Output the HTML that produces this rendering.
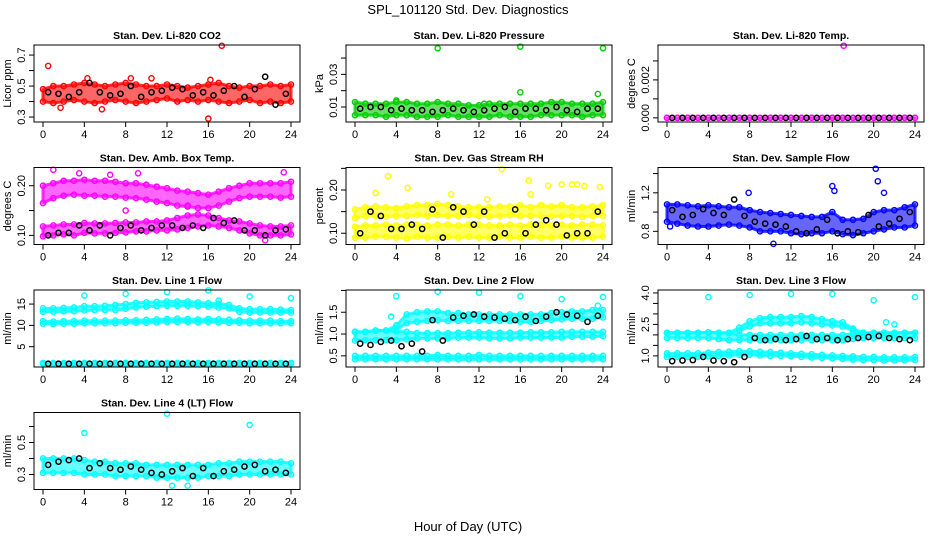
<!DOCTYPE html>
<html><head><meta charset="utf-8">
<style>
body{margin:0;background:#fff;}
svg{display:block;font-family:"Liberation Sans",Arial,sans-serif;}
</style></head>
<body>
<svg id="chart" width="936" height="540" viewBox="0 0 936 540" xmlns="http://www.w3.org/2000/svg">
<rect width="936" height="540" fill="#fff"/>
<text x="468" y="14" text-anchor="middle" font-size="13">SPL_101120  Std. Dev. Diagnostics</text>
<text x="468" y="531" text-anchor="middle" font-size="13">Hour of Day (UTC)</text>
</svg>
<script>
// shared hour categories
const bandHours = [0,1,2,3,4,5,6,7,8,9,10,11,12,13,14,15,16,17,18,19,20,21,22,23,24];
const blackHours = [0.5,1.5,2.5,3.5,4.5,5.5,6.5,7.5,8.5,9.5,10.5,11.5,12.5,13.5,14.5,15.5,16.5,17.5,18.5,19.5,20.5,21.5,22.5,23.5];
const xTicks = [0,4,8,12,16,20,24];

// CO2
const co2Lo = [0.40,0.39,0.40,0.41,0.40,0.39,0.40,0.41,0.40,0.39,0.40,0.41,0.42,0.40,0.41,0.40,0.41,0.40,0.39,0.40,0.41,0.39,0.40,0.39,0.40];
const co2Hi = [0.48,0.50,0.50,0.51,0.52,0.51,0.50,0.51,0.52,0.51,0.50,0.50,0.51,0.50,0.49,0.50,0.51,0.52,0.50,0.49,0.50,0.50,0.51,0.50,0.51];
const co2Black = [0.46,0.45,0.43,0.46,0.52,0.46,0.44,0.45,0.50,0.43,0.46,0.47,0.49,0.48,0.44,0.46,0.44,0.47,0.50,0.43,0.48,0.56,0.38,0.45];
const co2OutX = [0.5,1.7,4.3,5.7,10.5,16,16.2,17.3,8.5];
const co2OutY = [0.63,0.36,0.55,0.35,0.55,0.29,0.54,0.76,0.55];
// Pressure
const prLo = [0.005,0.005,0.005,0.004,0.005,0.005,0.004,0.004,0.004,0.005,0.004,0.004,0.004,0.004,0.005,0.004,0.004,0.004,0.005,0.005,0.005,0.005,0.004,0.005,0.005];
const prHi = [0.013,0.012,0.012,0.012,0.013,0.013,0.012,0.012,0.013,0.012,0.012,0.011,0.011,0.012,0.012,0.012,0.012,0.012,0.012,0.013,0.013,0.012,0.012,0.012,0.013];
const prBlack = [0.009,0.010,0.010,0.008,0.009,0.008,0.008,0.007,0.008,0.009,0.008,0.007,0.008,0.009,0.010,0.007,0.009,0.009,0.008,0.010,0.008,0.007,0.009,0.009];
const prOutX = [8,16,24,16,23.5,4,12.5];
const prOutY = [0.046,0.047,0.046,0.019,0.018,0.014,0.012];
// Li-820 temp
const tmLo = [0,0,0,0,0,0,0,0,0,0,0,0,0,0,0,0,0,0,0,0,0,0,0,0,0];
const tmHi = [0,0,0,0,0,0,0,0,0,0,0,0,0,0,0,0,0,0,0,0,0,0,0,0,0];
const tmBlack = [0,0,0,0,0,0,0,0,0,0,0,0,0,0,0,0,0,0,0,0,0,0,0,0];
const tmOutX = [17.1];
const tmOutY = [0.0038];
// Amb box temp
const abLo1 = [0.098,0.100,0.102,0.100,0.105,0.104,0.104,0.105,0.106,0.108,0.108,0.110,0.110,0.112,0.115,0.118,0.120,0.118,0.115,0.110,0.104,0.100,0.100,0.100,0.102];
const abHi1 = [0.118,0.120,0.122,0.122,0.125,0.124,0.124,0.125,0.126,0.126,0.128,0.128,0.130,0.135,0.140,0.142,0.140,0.135,0.130,0.128,0.124,0.120,0.118,0.118,0.120];
const abLo2 = [0.165,0.175,0.180,0.182,0.180,0.180,0.178,0.178,0.176,0.175,0.172,0.168,0.165,0.160,0.158,0.155,0.155,0.160,0.168,0.175,0.178,0.178,0.178,0.176,0.178];
const abHi2 = [0.200,0.205,0.210,0.210,0.212,0.210,0.210,0.208,0.205,0.205,0.202,0.198,0.195,0.190,0.188,0.185,0.182,0.188,0.195,0.200,0.205,0.205,0.205,0.205,0.208];
const abBlack = [0.100,0.105,0.105,0.120,0.110,0.120,0.100,0.115,0.120,0.110,0.115,0.120,0.120,0.115,0.120,0.115,0.135,0.125,0.130,0.110,0.110,0.100,0.110,0.112];
const abOutX = [1,3.5,6.5,9.2,14,23.3,21.5,8];
const abOutY = [0.232,0.225,0.222,0.225,0.160,0.227,0.090,0.150];
// Gas stream RH
const rhLo1 = [0.090,0.090,0.092,0.092,0.090,0.088,0.092,0.090,0.090,0.092,0.090,0.092,0.090,0.090,0.092,0.090,0.090,0.092,0.090,0.090,0.092,0.090,0.090,0.090,0.092];
const rhHi1 = [0.115,0.118,0.118,0.120,0.118,0.120,0.120,0.118,0.120,0.120,0.118,0.120,0.120,0.118,0.118,0.120,0.118,0.120,0.120,0.118,0.120,0.118,0.120,0.120,0.118];
const rhLo2 = [0.135,0.140,0.140,0.138,0.140,0.140,0.142,0.140,0.142,0.140,0.140,0.142,0.140,0.138,0.140,0.142,0.140,0.140,0.140,0.138,0.140,0.140,0.138,0.140,0.140];
const rhHi2 = [0.155,0.160,0.162,0.160,0.158,0.162,0.165,0.165,0.168,0.165,0.162,0.160,0.160,0.160,0.162,0.162,0.165,0.160,0.165,0.162,0.165,0.160,0.160,0.162,0.165];
const rhBlack = [0.100,0.150,0.140,0.110,0.110,0.120,0.110,0.155,0.090,0.160,0.150,0.120,0.150,0.090,0.100,0.155,0.100,0.120,0.130,0.120,0.095,0.100,0.100,0.150];
const rhOutX = [2,3.2,5.1,14.2,16.8,17,18.7,20,21,21.5,22.2,23.7,12.8,9.3];
const rhOutY = [0.193,0.232,0.205,0.248,0.222,0.190,0.210,0.213,0.213,0.213,0.209,0.207,0.178,0.19];
// Sample flow
const sfLo = [0.90,0.88,0.86,0.85,0.85,0.86,0.87,0.86,0.84,0.80,0.80,0.80,0.78,0.77,0.78,0.78,0.80,0.77,0.76,0.78,0.80,0.82,0.84,0.84,0.86];
const sfHi = [1.08,1.08,1.07,1.06,1.07,1.06,1.05,1.05,1.02,1.00,0.99,0.98,0.97,0.96,0.95,0.95,1.00,0.92,0.92,0.93,1.00,1.02,1.02,1.05,1.08];
const sfBlack = [1.02,0.95,0.97,1.03,0.99,0.97,1.13,0.96,0.90,0.88,0.87,0.85,0.80,0.78,0.82,0.92,0.78,0.80,0.79,0.97,0.85,0.88,0.93,1.00];
const sfOutX = [7.9,16,16.2,20.2,20.4,21,10.3,0.3];
const sfOutY = [1.20,1.27,1.22,1.45,1.32,1.20,0.67,0.85];
// Line 1 flow
const l1Lo1 = [13.2,13.2,13.3,13.3,13.5,13.6,13.6,13.6,13.9,14.2,14.4,14.5,14.6,14.6,14.6,14.5,14.4,14.2,14.0,13.2,13.0,13.0,13.0,13.0,13.0];
const l1Hi1 = [14.0,14.0,14.1,14.2,14.5,14.5,14.6,14.8,15.0,15.3,15.4,15.5,15.6,15.6,15.6,15.4,15.2,15.1,14.8,14.0,13.8,13.8,13.8,13.7,13.6];
const l1Lo2 = [10.4,10.3,10.4,10.4,10.5,10.5,10.5,10.5,10.6,10.6,10.6,10.7,10.8,10.8,10.8,10.7,10.8,10.7,10.6,10.6,10.5,10.5,10.5,10.5,10.5];
const l1Hi2 = [11.0,10.9,11.0,11.0,11.1,11.1,11.1,11.1,11.2,11.2,11.3,11.4,11.5,11.6,11.5,11.4,11.5,11.4,11.3,11.2,11.1,11.1,11.1,11.0,11.0];
const l1Lo3 = [1.0,1.0,1.0,1.0,1.0,1.0,1.0,1.0,1.0,1.0,1.0,1.0,1.0,1.0,1.0,1.0,1.0,1.0,1.0,1.0,1.0,1.0,1.0,1.0,1.0];
const l1Hi3 = [1.2,1.2,1.2,1.2,1.2,1.2,1.2,1.2,1.2,1.2,1.2,1.2,1.2,1.2,1.2,1.2,1.2,1.2,1.2,1.2,1.2,1.2,1.2,1.2,1.2];
const l1Black = [1,1,1,1,1,1,1,1,1,1,1,1,1,1,1,1,1,1,1,1,1,1,1,1];
const l1OutX = [4,8,12,16,20,24,17];
const l1OutY = [17.0,17.4,17.8,18.2,16.8,16.4,15.8];
// Line 2 flow
const l2Lo1 = [0.42,0.42,0.42,0.42,0.42,0.42,0.42,0.42,0.42,0.42,0.42,0.42,0.42,0.42,0.42,0.42,0.42,0.42,0.42,0.42,0.42,0.42,0.42,0.42,0.42];
const l2Hi1 = [0.50,0.50,0.50,0.50,0.50,0.50,0.50,0.50,0.52,0.50,0.50,0.50,0.52,0.50,0.50,0.50,0.50,0.50,0.50,0.50,0.50,0.50,0.50,0.50,0.50];
const l2Lo2 = [0.85,0.86,0.86,0.86,0.86,0.88,0.90,0.90,0.90,0.90,0.92,0.92,0.92,0.90,0.90,0.90,0.92,0.92,0.92,0.92,0.92,0.94,0.94,0.94,0.95];
const l2Hi2 = [1.05,1.05,1.08,1.08,1.06,1.05,1.02,1.02,1.02,1.02,1.03,1.03,1.04,1.03,1.03,1.03,1.03,1.04,1.04,1.04,1.05,1.05,1.05,1.05,1.05];
const l2Lo3 = [1.05,1.05,1.08,1.08,1.10,1.25,1.28,1.30,1.32,1.30,1.30,1.30,1.30,1.30,1.30,1.30,1.28,1.28,1.30,1.32,1.34,1.35,1.35,1.35,1.38];
const l2Hi3 = [1.05,1.05,1.08,1.08,1.20,1.45,1.50,1.52,1.52,1.48,1.48,1.45,1.45,1.45,1.45,1.45,1.45,1.45,1.45,1.48,1.50,1.52,1.52,1.55,1.55];
const l2Black = [0.78,0.75,0.82,0.85,0.72,0.78,0.60,1.32,0.85,1.38,1.42,1.45,1.40,1.38,1.35,1.32,1.40,1.30,1.40,1.50,1.45,1.42,1.28,1.42];
const l2OutX = [4,8,12,16,20,24,3.5,23.5];
const l2OutY = [1.87,1.97,1.95,1.87,1.80,1.85,1.40,1.65];
// Line 3 flow
const l3Lo1 = [0.95,0.95,0.95,0.95,0.98,1.00,1.02,1.05,1.05,1.02,1.00,1.00,0.98,0.95,0.92,0.90,0.88,0.85,0.82,0.80,0.80,0.78,0.78,0.78,0.80];
const l3Hi1 = [1.12,1.12,1.12,1.12,1.15,1.18,1.20,1.22,1.22,1.20,1.18,1.15,1.12,1.10,1.08,1.05,1.02,1.00,0.98,0.95,0.95,0.93,0.93,0.93,0.95];
const l3Lo2 = [1.85,1.85,1.85,1.85,1.85,1.80,1.75,1.75,1.75,1.75,1.75,1.75,1.75,1.75,1.75,1.75,1.75,1.75,1.80,1.85,1.85,1.85,1.85,1.85,1.85];
const l3Hi2 = [2.10,2.10,2.10,2.10,2.12,2.10,2.08,2.00,2.00,2.00,2.00,2.00,2.00,2.00,2.00,2.00,2.00,2.00,2.05,2.10,2.10,2.10,2.10,2.10,2.10];
const l3Lo3 = [2.10,2.10,2.10,2.10,2.12,2.10,2.10,2.20,2.40,2.55,2.55,2.55,2.55,2.60,2.55,2.50,2.45,2.40,2.20,2.10,2.10,2.10,2.10,2.10,2.10];
const l3Hi3 = [2.10,2.10,2.10,2.10,2.12,2.10,2.10,2.35,2.65,2.80,2.85,2.85,2.85,2.90,2.85,2.75,2.65,2.60,2.30,2.10,2.10,2.10,2.10,2.10,2.10];
const l3Black = [0.75,0.78,0.80,0.95,0.78,0.75,0.70,0.95,1.85,1.75,1.80,1.75,1.80,1.95,1.80,1.85,1.75,1.80,1.85,1.90,1.95,1.85,1.80,1.75];
const l3OutX = [4,8,12,16,20,24,21.2,22];
const l3OutY = [3.80,3.90,3.95,3.95,3.65,3.80,2.60,2.50];
// Line 4 flow
const l4Lo = [0.31,0.31,0.31,0.31,0.30,0.30,0.30,0.29,0.29,0.29,0.29,0.28,0.28,0.28,0.28,0.28,0.29,0.29,0.29,0.30,0.30,0.30,0.30,0.30,0.30];
const l4Hi = [0.40,0.40,0.40,0.40,0.39,0.38,0.38,0.37,0.37,0.37,0.36,0.36,0.36,0.36,0.36,0.36,0.36,0.37,0.37,0.38,0.38,0.38,0.38,0.38,0.37];
const l4Black = [0.36,0.38,0.39,0.40,0.34,0.37,0.34,0.33,0.35,0.33,0.31,0.30,0.32,0.34,0.29,0.34,0.29,0.32,0.33,0.35,0.36,0.32,0.33,0.31];
const l4OutX = [4,12,20,12.5,14];
const l4OutY = [0.56,0.68,0.61,0.23,0.23];

const panels = [
 {name:'co2',title:'Stan. Dev. Li-820 CO2',ylab:'Licor ppm',col:'#ff0000',r:0,c:0,ymin:0.268,ymax:0.765,ticks:[0.3,0.4,0.5,0.6,0.7],labs:{'0.3':'0.3','0.5':'0.5','0.7':'0.7'},bands:[[co2Lo,co2Hi]],black:co2Black,ox:co2OutX,oy:co2OutY},
 {name:'pressure',title:'Stan. Dev. Li-820 Pressure',ylab:'kPa',col:'#00cd00',r:0,c:1,ymin:0.0008,ymax:0.048,ticks:[0.01,0.02,0.03,0.04],labs:{'0.01':'0.01','0.03':'0.03'},bands:[[prLo,prHi]],black:prBlack,ox:prOutX,oy:prOutY},
 {name:'li820-temp',title:'Stan. Dev. Li-820 Temp.',ylab:'degrees C',col:'#ff00ff',r:0,c:2,ymin:-0.00022,ymax:0.00384,ticks:[0,0.001,0.002,0.003],labs:{'0':'0.000','0.002':'0.002'},bands:[[tmLo,tmHi]],black:tmBlack,ox:tmOutX,oy:tmOutY},
 {name:'amb-box-temp',title:'Stan. Dev. Amb. Box Temp.',ylab:'degrees C',col:'#ff00ff',r:1,c:0,ymin:0.0816,ymax:0.2367,ticks:[0.10,0.15,0.20],labs:{'0.1':'0.10','0.2':'0.20'},bands:[[abLo1,abHi1],[abLo2,abHi2]],black:abBlack,ox:abOutX,oy:abOutY},
 {name:'gas-stream-rh',title:'Stan. Dev. Gas Stream RH',ylab:'percent',col:'#ffff00',r:1,c:1,ymin:0.074,ymax:0.252,ticks:[0.10,0.15,0.20,0.25],labs:{'0.1':'0.10','0.2':'0.20'},bands:[[rhLo1,rhHi1],[rhLo2,rhHi2]],black:rhBlack,ox:rhOutX,oy:rhOutY},
 {name:'sample-flow',title:'Stan. Dev. Sample Flow',ylab:'ml/min',col:'#0000ff',r:1,c:2,ymin:0.663,ymax:1.463,ticks:[0.8,1.0,1.2,1.4],labs:{'0.8':'0.8','1.2':'1.2'},bands:[[sfLo,sfHi]],black:sfBlack,ox:sfOutX,oy:sfOutY},
 {name:'line1-flow',title:'Stan. Dev. Line 1 Flow',ylab:'ml/min',col:'#00ffff',r:2,c:0,ymin:0.24,ymax:18.3,ticks:[5,10,15],labs:{'5':'5','10':'10','15':'15'},bands:[[l1Lo1,l1Hi1],[l1Lo2,l1Hi2],[l1Lo3,l1Hi3]],black:l1Black,ox:l1OutX,oy:l1OutY},
 {name:'line2-flow',title:'Stan. Dev. Line 2 Flow',ylab:'ml/min',col:'#00ffff',r:2,c:1,ymin:0.244,ymax:2.01,ticks:[0.5,1.0,1.5,2.0],labs:{'0.5':'0.5','1':'1.0','1.5':'1.5'},bands:[[l2Lo1,l2Hi1],[l2Lo2,l2Hi2],[l2Lo3,l2Hi3]],black:l2Black,ox:l2OutX,oy:l2OutY},
 {name:'line3-flow',title:'Stan. Dev. Line 3 Flow',ylab:'ml/min',col:'#00ffff',r:2,c:2,ymin:0.47,ymax:4.14,ticks:[1.0,1.5,2.0,2.5,3.0,3.5,4.0],labs:{'1':'1.0','2.5':'2.5','4':'4.0'},bands:[[l3Lo1,l3Hi1],[l3Lo2,l3Hi2],[l3Lo3,l3Hi3]],black:l3Black,ox:l3OutX,oy:l3OutY},
 {name:'line4-flow',title:'Stan. Dev. Line 4 (LT) Flow',ylab:'ml/min',col:'#00ffff',r:3,c:0,ymin:0.206,ymax:0.6875,ticks:[0.3,0.4,0.5,0.6],labs:{'0.3':'0.3','0.5':'0.5'},bands:[[l4Lo,l4Hi]],black:l4Black,ox:l4OutX,oy:l4OutY}
];

const NS='http://www.w3.org/2000/svg';
const svg=document.getElementById('chart');
function mk(tag,attrs,parent){const e=document.createElementNS(NS,tag);for(const k in attrs)e.setAttribute(k,attrs[k]);(parent||svg).appendChild(e);return e;}

panels.forEach(p=>{
  const L=34+312*p.c, T=45+122.5*p.r, W=266, H=77;
  const g=mk('g',{});
  
  
  const xS=v=>L+9+v*248/24;
  const yS=v=>T+H-(v-p.ymin)/(p.ymax-p.ymin)*H;
  const clip=mk('clipPath',{id:'clip-'+p.name},g);
  mk('rect',{x:L,y:T-3,width:W,height:H+6},clip);
  const data=mk('g',{'clip-path':'url(#clip-'+p.name+')'},g);
  p.bands.forEach((b,bi)=>{
    const lo=b[0],hi=b[1];
    let pts=bandHours.map((h,i)=>xS(h)+','+yS(hi[i]));
    pts=pts.concat(bandHours.map((h,i)=>xS(h)+','+yS(lo[i])).reverse());
    const poly=mk('polygon',{points:pts.join(' '),fill:p.col,'fill-opacity':0.6,stroke:p.col,'stroke-opacity':0.8,'stroke-width':3,'stroke-linejoin':'round'},data);
    
    
    [lo,hi].forEach(arr=>arr.forEach((v,i)=>{
      const c=mk('circle',{cx:xS(bandHours[i]),cy:yS(v),r:2.6,fill:'none',stroke:p.col,'stroke-width':1.4},data);
      
      
    }));
  });
  p.ox.forEach((x,i)=>{
    const c=mk('circle',{cx:xS(x),cy:yS(p.oy[i]),r:2.6,fill:'none',stroke:p.col,'stroke-width':1.4},data);
    
    
  });
  p.black.forEach((v,i)=>{
    const c=mk('circle',{cx:xS(blackHours[i]),cy:yS(v),r:2.6,fill:'none',stroke:'#000','stroke-width':1.5},data);
    
    
  });
  mk('rect',{x:L,y:T,width:W,height:H,fill:'none',stroke:'#000','stroke-width':1},g);
  const t=mk('text',{x:L+W/2,y:T-6,'text-anchor':'middle','font-size':10.5,'font-weight':'bold'},g);
  t.textContent=p.title;
  
  
  mk('line',{x1:xS(0),x2:xS(24),y1:T+H,y2:T+H,stroke:'#000'},g);
  xTicks.forEach(v=>{
    mk('line',{x1:xS(v),x2:xS(v),y1:T+H,y2:T+H+5,stroke:'#000'},g);
    const lab=mk('text',{x:xS(v),y:T+H+16,'text-anchor':'middle','font-size':11},g);
    lab.textContent=v;
    
    
  });
  const t0=p.ticks[0], t1=p.ticks[p.ticks.length-1];
  mk('line',{x1:L,x2:L,y1:yS(t0),y2:yS(t1),stroke:'#000'},g);
  p.ticks.forEach(v=>{
    mk('line',{x1:L-5,x2:L,y1:yS(v),y2:yS(v),stroke:'#000'},g);
    const key=String(+v.toFixed(4));
    if(p.labs[key]!==undefined){
      const yy=yS(v);
      const lab=mk('text',{x:L-9,y:yy,'text-anchor':'middle','font-size':11,transform:'rotate(-90 '+(L-9)+' '+yy+')'},g);
      lab.textContent=p.labs[key];
      
      
    }
  });
  const yl=mk('text',{x:L-23,y:T+H/2,'text-anchor':'middle','font-size':11,transform:'rotate(-90 '+(L-23)+' '+(T+H/2)+')'},g);
  yl.textContent=p.ylab;
  
  
});
</script>
</body></html>
